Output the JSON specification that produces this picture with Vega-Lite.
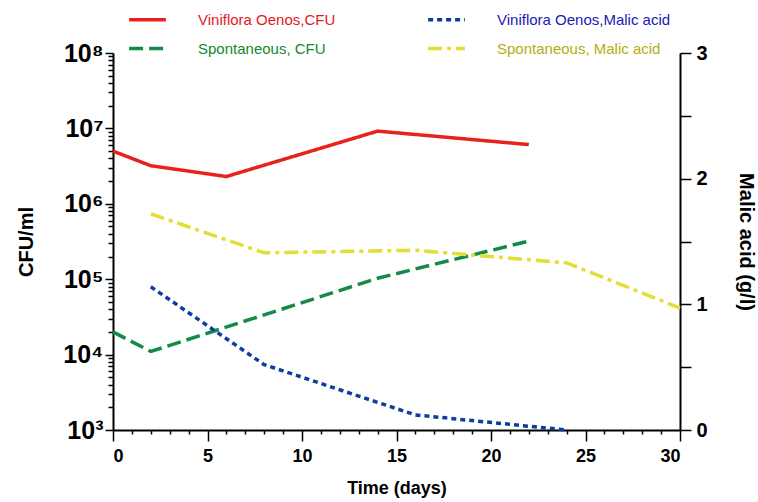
{
  "$schema": "https://vega.github.io/schema/vega-lite/v6.json",
  "width": 567,
  "height": 377,
  "autosize": {"type": "none"},
  "padding": {"left": 113, "top": 53, "right": 78, "bottom": 72},
  "background": "white",
  "config": {
    "view": {"stroke": null},
    "font": "Liberation Sans",
    "axis": {
      "domainColor": "black",
      "domainWidth": 2,
      "tickColor": "black",
      "tickWidth": 1.5,
      "grid": false,
      "labelColor": "black",
      "labelFont": "Liberation Sans",
      "labelFontWeight": "bold",
      "labelOverlap": false,
      "labelBound": false,
      "titleFont": "Liberation Sans",
      "titleFontWeight": "bold",
      "titleFontSize": 20,
      "titleColor": "black"
    },
    "legend": {
      "orient": "none",
      "legendX": 14,
      "legendY": -54,
      "columns": 2,
      "direction": "horizontal",
      "symbolType": "stroke",
      "symbolSize": 1352,
      "symbolStrokeWidth": 3.5,
      "labelFont": "Liberation Sans",
      "labelFontSize": 15,
      "labelOffset": 30,
      "columnPadding": 85,
      "rowPadding": 0,
      "labelLimit": 300
    }
  },
  "datasets": {
    "cfu": [
      {"day": 0, "cfu": 5000000, "series": "Viniflora Oenos,CFU"},
      {"day": 2, "cfu": 3200000, "series": "Viniflora Oenos,CFU"},
      {"day": 6, "cfu": 2300000, "series": "Viniflora Oenos,CFU"},
      {"day": 14, "cfu": 9200000, "series": "Viniflora Oenos,CFU"},
      {"day": 22, "cfu": 6100000, "series": "Viniflora Oenos,CFU"},
      {"day": 0, "cfu": 20000, "series": "Spontaneous,  CFU"},
      {"day": 2, "cfu": 11000, "series": "Spontaneous,  CFU"},
      {"day": 14, "cfu": 103000, "series": "Spontaneous,  CFU"},
      {"day": 22, "cfu": 320000, "series": "Spontaneous,  CFU"}
    ],
    "malic": [
      {"day": 2, "malic": 1.14, "series": "Viniflora Oenos,Malic acid"},
      {"day": 8, "malic": 0.52, "series": "Viniflora Oenos,Malic acid"},
      {"day": 16, "malic": 0.12, "series": "Viniflora Oenos,Malic acid"},
      {"day": 24, "malic": 0.0, "series": "Viniflora Oenos,Malic acid"},
      {"day": 2, "malic": 1.72, "series": "Spontaneous,  Malic acid"},
      {"day": 8, "malic": 1.41, "series": "Spontaneous,  Malic acid"},
      {"day": 16, "malic": 1.43, "series": "Spontaneous,  Malic acid"},
      {"day": 24, "malic": 1.33, "series": "Spontaneous,  Malic acid"},
      {"day": 30, "malic": 0.97, "series": "Spontaneous,  Malic acid"}
    ]
  },
  "encoding": {
    "x": {
      "field": "day",
      "type": "quantitative",
      "scale": {"domain": [0, 30], "nice": false},
      "axis": {
        "title": "Time (days)",
        "titleFontSize": 18,
        "values": [0,1,2,3,4,5,6,7,8,9,10,11,12,13,14,15,16,17,18,19,20,21,22,23,24,25,26,27,28,29,30],
        "labelExpr": "datum.value % 5 == 0 ? format(datum.value, 'd') : ''",
        "tickSize": {"condition": {"test": "datum.value % 5 == 0", "value": 11}, "value": 4},
        "labelFontSize": 18,
        "labelPadding": 6,
        "titlePadding": 14
      }
    },
    "color": {
      "field": "series",
      "type": "nominal",
      "scale": {
        "domain": ["Viniflora Oenos,CFU", "Viniflora Oenos,Malic acid", "Spontaneous,  CFU", "Spontaneous,  Malic acid"],
        "range": ["#e8211d", "#0d3d9e", "#138a47", "#e2de34"]
      },
      "legend": {
        "title": null,
        "labelColor": {"expr": "datum.label == 'Viniflora Oenos,CFU' ? '#e31a1c' : datum.label == 'Viniflora Oenos,Malic acid' ? '#1a1ab4' : datum.label == 'Spontaneous,  CFU' ? '#138a2a' : '#b5ad12'"}
      }
    },
    "strokeDash": {
      "field": "series",
      "type": "nominal",
      "scale": {
        "domain": ["Viniflora Oenos,CFU", "Viniflora Oenos,Malic acid", "Spontaneous,  CFU", "Spontaneous,  Malic acid"],
        "range": [[1, 0], [5, 4], [14, 6], [14, 5, 4, 5]]
      },
      "legend": {
        "title": null,
        "labelColor": {"expr": "datum.label == 'Viniflora Oenos,CFU' ? '#e31a1c' : datum.label == 'Viniflora Oenos,Malic acid' ? '#1a1ab4' : datum.label == 'Spontaneous,  CFU' ? '#138a2a' : '#b5ad12'"}
      }
    }
  },
  "layer": [
    {
      "data": {"name": "cfu"},
      "mark": {"type": "line", "strokeWidth": 3.5, "strokeCap": "butt"},
      "encoding": {
        "y": {
          "field": "cfu",
          "type": "quantitative",
          "scale": {"type": "log", "domain": [1000, 100000000], "nice": false},
          "axis": {
            "title": "CFU/ml",
            "values": [1000,2000,3000,4000,5000,6000,7000,8000,9000,10000,20000,30000,40000,50000,60000,70000,80000,90000,100000,200000,300000,400000,500000,600000,700000,800000,900000,1000000,2000000,3000000,4000000,5000000,6000000,7000000,8000000,9000000,10000000,20000000,30000000,40000000,50000000,60000000,70000000,80000000,90000000,100000000],
            "labelExpr": "abs(log(datum.value)/LN10 - round(log(datum.value)/LN10)) < 0.000001 ? '10' + ['⁰','¹','²','³','⁴','⁵','⁶','⁷','⁸'][round(log(datum.value)/LN10)] : ''",
            "tickSize": {"condition": {"test": "abs(log(datum.value)/LN10 - round(log(datum.value)/LN10)) < 0.000001", "value": 8}, "value": 5},
            "labelFontSize": 25,
            "labelPadding": 2,
            "titlePadding": 26
          }
        }
      }
    },
    {
      "data": {"name": "malic"},
      "mark": {"type": "line", "strokeWidth": 3.5, "strokeCap": "butt"},
      "encoding": {
        "y": {
          "field": "malic",
          "type": "quantitative",
          "scale": {"domain": [0, 3], "nice": false},
          "axis": {
            "orient": "right",
            "title": "Malic acid  (g/l)",
            "values": [0, 0.5, 1, 1.5, 2, 2.5, 3],
            "labelExpr": "datum.value % 1 == 0 ? format(datum.value, 'd') : ''",
            "tickSize": 11,
            "labelFontSize": 20,
            "labelPadding": 5,
            "titlePadding": 28
          }
        }
      }
    }
  ],
  "resolve": {"scale": {"y": "independent"}}
}
